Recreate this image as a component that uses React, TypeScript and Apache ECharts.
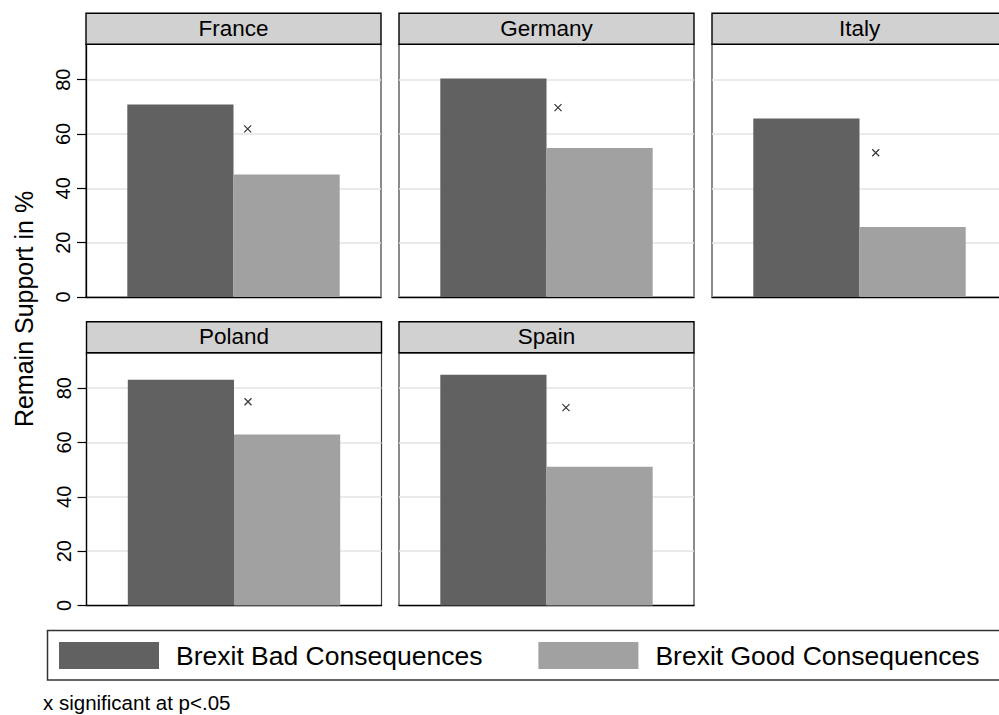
import React, { useEffect, useRef } from "react";
import * as echarts from "echarts";

const countries = ["France", "Germany", "Italy", "Poland", "Spain"];
const badValues = [70.8, 80.4, 65.7, 83.1, 84.9];
const goodValues = [45.1, 54.8, 25.8, 62.9, 51.1];
const sigValues = [61.9, 69.7, 53.1, 75.0, 72.8];
const sigX = [0.096, 0.078, 0.11, 0.095, 0.132];
const seriesNames = ["Brexit Bad Consequences", "Brexit Good Consequences"];
const yTickValues = [0, 20, 40, 60, 80];
const yRange = { min: 0, max: 93, interval: 20 };
const yTitle = "Remain Support in %";
const note = "x significant at p<.05";

const FONT = "'Liberation Sans', Arial, Helvetica, sans-serif";
const DARK = "#616161";
const LIGHT = "#a1a1a1";

const panelLefts = [86, 399, 712, 86.5, 399];
const panelTops = [44.3, 44.3, 44.3, 352.8, 352.8];
const PW = 295;
const PH = 252.7;
const HEADER_H = 31;

export default function App() {
  const ref = useRef<HTMLDivElement>(null);
  useEffect(() => {
    if (!ref.current) return;
    const chart = echarts.init(ref.current, null, { renderer: "svg" });
    const grids: any[] = [];
    const xAxes: any[] = [];
    const yAxes: any[] = [];
    const series: any[] = [];
    const graphics: any[] = [];
    countries.forEach((c, i) => {
      const firstCol = i === 0 || i === 3;
      grids.push({
        left: panelLefts[i],
        top: panelTops[i],
        width: PW,
        height: PH,
        show: true,
        borderColor: "#3c3c3c",
        borderWidth: 1.2,
        backgroundColor: "#fff",
      });
      xAxes.push({
        type: "category",
        gridIndex: i,
        data: [c],
        axisLabel: { show: false },
        axisTick: { show: false },
        axisLine: { show: true, onZero: false, lineStyle: { color: "#000", width: 1.3 } },
      });
      xAxes.push({
        type: "value",
        gridIndex: i,
        min: -1,
        max: 1,
        show: false,
        axisLine: { onZero: false },
      });
      yAxes.push({
        type: "value",
        gridIndex: i,
        min: yRange.min,
        max: yRange.max,
        interval: yRange.interval,
        axisLine: { show: firstCol, onZero: false, lineStyle: { color: "#000", width: 1.3 } },
        axisTick: {
          show: firstCol,
          length: 9,
          customValues: yTickValues,
          lineStyle: { color: "#000", width: 1.2 },
        },
        axisLabel: {
          show: firstCol,
          rotate: 90,
          fontSize: 20,
          color: "#000",
          fontFamily: FONT,
          margin: 13,
          customValues: yTickValues,
        },
        splitLine: { show: true, lineStyle: { color: "#e3e3e3", width: 1.5 } },
      });
      series.push({
        type: "bar",
        name: seriesNames[0],
        xAxisIndex: i * 2,
        yAxisIndex: i,
        data: [badValues[i]],
        barGap: "0%",
        barCategoryGap: "28%",
        itemStyle: { color: DARK },
        silent: true,
      });
      series.push({
        type: "bar",
        name: seriesNames[1],
        xAxisIndex: i * 2,
        yAxisIndex: i,
        data: [goodValues[i]],
        barGap: "0%",
        barCategoryGap: "28%",
        itemStyle: { color: LIGHT },
        silent: true,
      });
      series.push({
        type: "scatter",
        name: "sig",
        xAxisIndex: i * 2 + 1,
        yAxisIndex: i,
        data: [[sigX[i], sigValues[i]]],
        symbol: "path://M0,0L10,10M10,0L0,10",
        symbolSize: 7,
        itemStyle: { color: "transparent", borderColor: "#000", borderWidth: 1.2 },
        silent: true,
        z: 5,
      });
      graphics.push({
        type: "group",
        children: [
          {
            type: "rect",
            shape: { x: panelLefts[i], y: panelTops[i] - HEADER_H, width: PW, height: HEADER_H },
            style: { fill: "#d1d1d1", stroke: "#000", lineWidth: 1.4 },
          },
          {
            type: "text",
            x: panelLefts[i] + PW / 2,
            y: panelTops[i] - HEADER_H / 2 - 0.5,
            style: {
              text: c,
              fontSize: 22.5,
              fontFamily: FONT,
              fill: "#000",
              align: "center",
              verticalAlign: "middle",
            },
          },
        ],
      });
    });
    graphics.push({
      type: "text",
      x: 24,
      y: 309,
      rotation: Math.PI / 2,
      style: {
        text: yTitle,
        fontSize: 25,
        fontFamily: FONT,
        fill: "#000",
        align: "center",
        verticalAlign: "middle",
      },
    });
    graphics.push({
      type: "rect",
      shape: { x: 47.5, y: 630.5, width: 1000, height: 49.5 },
      style: { fill: "none", stroke: "#333", lineWidth: 1.5 },
    });
    graphics.push({
      type: "text",
      x: 43,
      y: 702.5,
      style: {
        text: note,
        fontSize: 20.5,
        fontFamily: FONT,
        fill: "#000",
        align: "left",
        verticalAlign: "middle",
      },
    });

    chart.setOption({
      animation: false,
      backgroundColor: "#fff",
      grid: grids,
      xAxis: xAxes,
      yAxis: yAxes,
      series,
      legend: {
        data: seriesNames,
        left: 59,
        top: 642,
        padding: 0,
        icon: "rect",
        itemWidth: 100,
        itemHeight: 27,
        itemGap: 56,
        selectedMode: false,
        textStyle: {
          fontSize: 26.5,
          fontFamily: FONT,
          color: "#000",
          padding: [0, 0, 0, 12],
        },
      },
      graphic: graphics,
    });
    return () => chart.dispose();
  }, []);
  return (
    <div
      style={{ position: "absolute", left: 0, top: 0, width: 999, height: 715, overflow: "hidden" }}
    >
      <div ref={ref} style={{ width: 1020, height: 715 }} />
    </div>
  );
}
